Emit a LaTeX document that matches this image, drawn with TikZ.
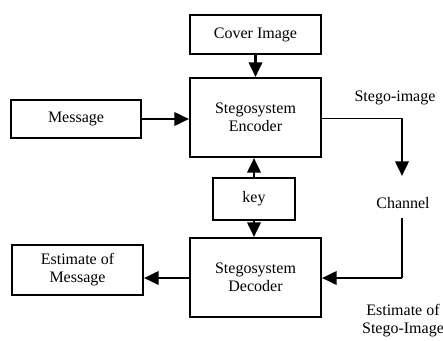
\documentclass[tikz,border=0pt]{standalone}
\usepackage{fontspec}
\setmainfont{Liberation Serif}
\usetikzlibrary{arrows.meta}
\begin{document}
\begin{tikzpicture}[x=0.75pt,y=-0.75pt,
  box/.style={draw,line width=1.5pt,align=center,font=\fontsize{12}{13.5}\selectfont,inner sep=0pt},
  lbl/.style={align=center,font=\fontsize{12}{13.5}\selectfont,inner sep=0pt},
  conn/.style={line width=2pt,-{Triangle[length=11pt,width=10pt]}},
  thick line/.style={line width=2pt},
  thin line/.style={line width=0.75pt}]
\useasboundingbox (0,0) rectangle (443,340);
\node[box,minimum width=131*0.75pt,minimum height=39*0.75pt] (cover) at (255.5,34.5) {Cover Image};
\node[box,minimum width=131*0.75pt,minimum height=79*0.75pt] (enc) at (255.5,117.5) {Stegosystem\\Encoder};
\node[box,minimum width=130*0.75pt,minimum height=38*0.75pt] (msg) at (76,119) {Message};
\node[box,minimum width=82*0.75pt,minimum height=42*0.75pt] (key) at (254,199) {key};
\node[box,minimum width=131*0.75pt,minimum height=79*0.75pt] (dec) at (255.5,277.5) {Stegosystem\\Decoder};
\node[box,minimum width=131*0.75pt,minimum height=50*0.75pt] (est) at (77.5,270) {Estimate of\\Message};
\node[lbl] (stego) at (395,98) {Stego-image};
\node[lbl] (channel) at (403,203) {Channel};
\node[lbl] (eststego) at (403,321) {Estimate of\\Stego-Image};
\coordinate (c1) at (402,118);
\coordinate (c2) at (402,176);
\coordinate (c3) at (402,218);
\coordinate (c4) at (402,278);
\draw[conn] (cover.south) -- (enc.north);
\draw[conn] (msg.east) -- (msg.east-|enc.west);
\draw[conn] (key.north) -- (key.north|-enc.south);
\draw[conn] (key.south) -- (key.south|-dec.north);
\draw[thin line] (enc.east|-c1) -- (c1);
\draw[conn] (c1) -- (c2);
\draw[thick line] (c3) -- (c4);
\draw[conn] (c4) -- (c4-|dec.east);
\draw[conn] (dec.west|-c4) -- (c4-|est.east);
\end{tikzpicture}
\end{document}
